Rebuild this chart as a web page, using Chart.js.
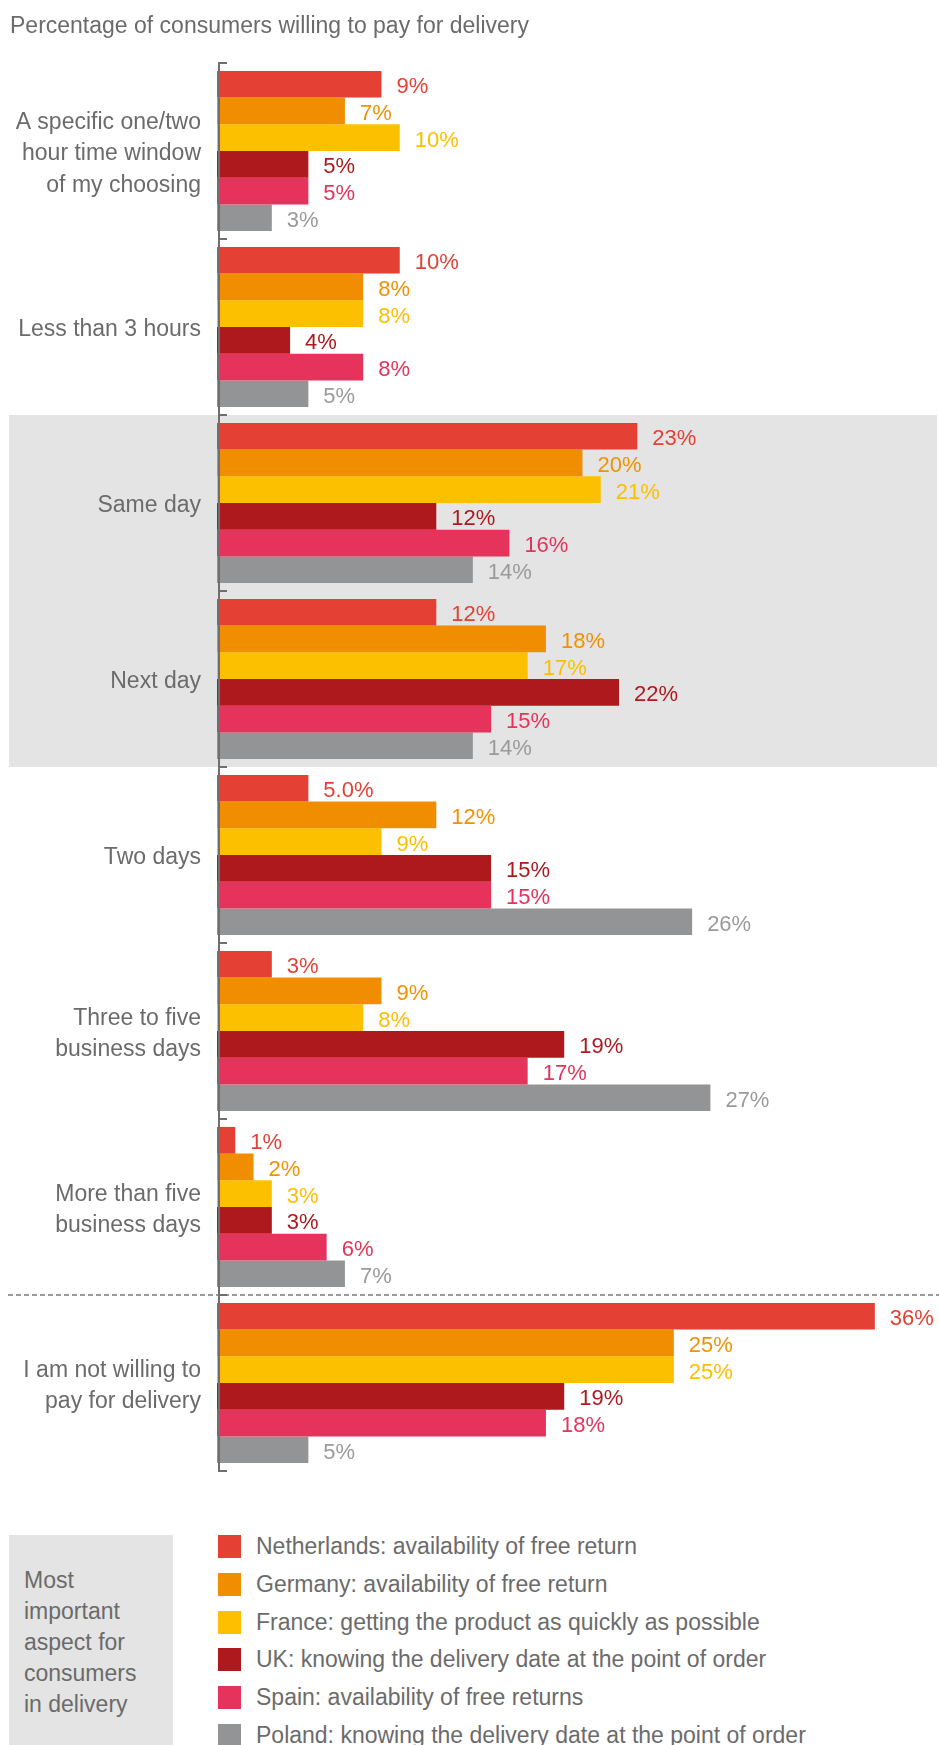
<!DOCTYPE html>
<html><head><meta charset="utf-8">
<script src="https://cdn.jsdelivr.net/npm/chart.js@4.4.0/dist/chart.umd.min.js"></script>
<style>
html,body{margin:0;padding:0;background:#fff;}
body{width:939px;height:1745px;position:relative;overflow:hidden;font-family:"Liberation Sans",Arial,sans-serif;color:#6b6b6b;}
#title{position:absolute;left:10px;top:9px;font-size:23px;line-height:32px;white-space:nowrap;}
#wrap{position:absolute;left:0;top:0;width:939px;height:1490px;}
#note{position:absolute;left:9px;top:1535px;width:164px;height:210px;background:#e3e4e3;box-sizing:border-box;padding:30px 0 0 15px;font-size:23px;line-height:31px;}
#legend{position:absolute;left:218px;top:1535px;width:700px;height:210px;}
.item{position:absolute;left:0;height:23px;white-space:nowrap;}
.sw{position:absolute;left:0;top:0;width:23px;height:23px;}
.lt{position:absolute;left:38px;top:0;line-height:23px;font-size:23px;}
</style></head>
<body>
<div id="wrap"><canvas id="c"></canvas></div>
<div id="title">Percentage of consumers willing to pay for delivery</div>
<div id="note">Most<br>important<br>aspect for<br>consumers<br>in delivery</div>
<div id="legend"></div>
<script>
const categories = [
  ["A specific one/two","hour time window","of my choosing"],
  "Less than 3 hours",
  "Same day",
  "Next day",
  "Two days",
  ["Three to five","business days"],
  ["More than five","business days"],
  ["I am not willing to","pay for delivery"]
];
const seriesNames = [
  "Netherlands: availability of free return",
  "Germany: availability of free return",
  "France: getting the product as quickly as possible",
  "UK: knowing the delivery date at the point of order",
  "Spain: availability of free returns",
  "Poland: knowing the delivery date at the point of order"
];
const netherlands = [9, 10, 23, 12, 5.0, 3, 1, 36];
const germany     = [7, 8, 20, 18, 12, 9, 2, 25];
const france      = [10, 8, 21, 17, 9, 8, 3, 25];
const uk          = [5, 4, 12, 22, 15, 19, 3, 19];
const spain       = [5, 8, 16, 15, 15, 17, 6, 18];
const poland      = [3, 5, 14, 14, 26, 27, 7, 5];
const oneDecimalLabels = [[0, 4]]; // [series, category] printed with one decimal
const highlightedCategories = [2, 3];
const separatorBefore = 7;

const barColors = ["#E44134", "#F08E00", "#FCC000", "#AE191D", "#E5335C", "#939496"];
const labelColors = ["#E44134", "#F29100", "#FCBF00", "#AE191D", "#E5335C", "#9A9A9A"];
const seriesData = [netherlands, germany, france, uk, spain, poland];

const FONT = '"Liberation Sans", Arial, sans-serif';

const decor = {
  id: 'decor',
  beforeDraw(chart) {
    const ctx = chart.ctx, y = chart.scales.y, area = chart.chartArea;
    const band = (y.bottom - y.top) / categories.length;
    ctx.save();
    ctx.fillStyle = '#e3e4e3';
    const first = Math.min(...highlightedCategories), last = Math.max(...highlightedCategories);
    ctx.fillRect(9, y.top + first * band, area.right - 9, (last - first + 1) * band);
    ctx.restore();
  },
  afterDatasetsDraw(chart) {
    const ctx = chart.ctx, y = chart.scales.y, x = chart.scales.x;
    const band = (y.bottom - y.top) / categories.length;
    ctx.save();
    // dashed separator
    ctx.strokeStyle = '#9a9a9a';
    ctx.lineWidth = 2;
    ctx.setLineDash([5, 3]);
    const sy = Math.round(y.top + separatorBefore * band);
    ctx.beginPath(); ctx.moveTo(8, sy); ctx.lineTo(chart.width, sy); ctx.stroke();
    ctx.setLineDash([]);
    // axis line with bracket ticks
    const ax = x.getPixelForValue(0) + 2;
    ctx.strokeStyle = '#6f6f6f';
    ctx.lineWidth = 2;
    ctx.beginPath(); ctx.moveTo(ax, y.top); ctx.lineTo(ax, y.bottom); ctx.stroke();
    for (let i = 0; i <= categories.length; i++) {
      const ty = Math.round(y.top + i * band);
      ctx.beginPath(); ctx.moveTo(ax - 1, ty); ctx.lineTo(ax + 8, ty); ctx.stroke();
    }
    // value labels
    ctx.font = '22px ' + FONT;
    ctx.textBaseline = 'middle';
    ctx.textAlign = 'left';
    chart.data.datasets.forEach((ds, di) => {
      const meta = chart.getDatasetMeta(di);
      meta.data.forEach((bar, i) => {
        const v = ds.data[i];
        const dec = oneDecimalLabels.some(p => p[0] === di && p[1] === i) ? 1 : 0;
        ctx.fillStyle = labelColors[di];
        ctx.fillText(v.toFixed(dec) + '%', bar.x + 15, bar.y + 3);
      });
    });
    ctx.restore();
  }
};

new Chart(document.getElementById('c'), {
  type: 'bar',
  data: {
    labels: categories,
    datasets: seriesNames.map((n, i) => ({
      label: n,
      data: seriesData[i],
      backgroundColor: barColors[i],
      borderWidth: 0,
      categoryPercentage: 0.91,
      barPercentage: 1.0
    }))
  },
  options: {
    indexAxis: 'y',
    responsive: true,
    maintainAspectRatio: false,
    animation: false,
    layout: { padding: { top: 63, bottom: 19, left: 0, right: 2 } },
    plugins: { legend: { display: false }, tooltip: { enabled: false }, title: { display: false } },
    scales: {
      x: { display: false, min: 0, max: 39.4 },
      y: {
        grid: { display: false, drawTicks: false },
        border: { display: false },
        ticks: { color: '#6b6b6b', font: { family: FONT, size: 23, lineHeight: 1.36 }, padding: 16, labelOffset: 3 },
        afterFit(scale) { scale.width = 217; scale.paddingTop = 0; scale.paddingBottom = 0; }
      }
    }
  },
  plugins: [decor]
});

const legend = document.getElementById('legend');
seriesNames.forEach((n, i) => {
  const it = document.createElement('div');
  it.className = 'item';
  it.style.top = (i * 37.8) + 'px';
  it.innerHTML = '<div class="sw" style="background:' + barColors[i] + '"></div><div class="lt"></div>';
  it.querySelector('.lt').textContent = n;
  legend.appendChild(it);
});
</script>
</body></html>
